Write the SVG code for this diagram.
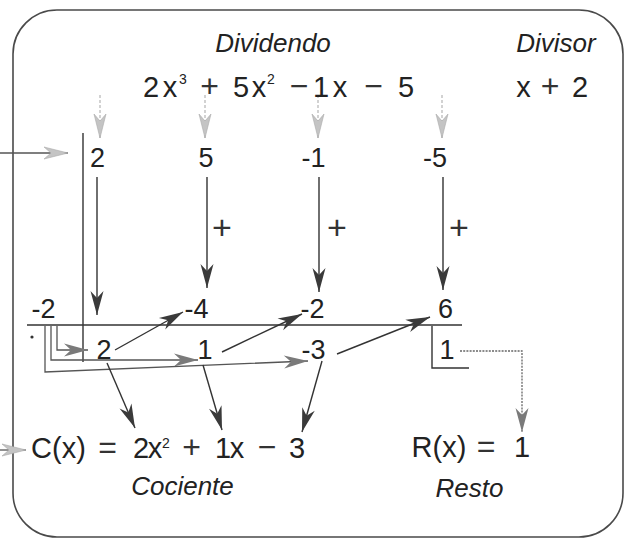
<svg xmlns="http://www.w3.org/2000/svg" width="625" height="539" viewBox="0 0 625 539">
<style>
  .frame{fill:#fff;stroke:#4a4a4a;stroke-width:1.6}
  .ln{fill:none;stroke:#333;stroke-width:1.4}
  .ln2{fill:none;stroke:#555;stroke-width:1.3}
  .feed{fill:none;stroke:#b5b5b5;stroke-width:1.2;stroke-dasharray:3 2}
  .rem{fill:none;stroke:#666;stroke-width:1.3;stroke-dasharray:2 1.2}
  .num{font-family:"Liberation Sans",Arial,sans-serif;font-size:27px;fill:#222;text-anchor:middle}
  .big{font-family:"Liberation Sans",Arial,sans-serif;font-size:29px;fill:#222;text-anchor:middle}
  .op{font-size:32px;fill:#333}
  .sup{font-family:"Liberation Sans",Arial,sans-serif;font-size:14px;fill:#222;text-anchor:middle}
  .lab{font-family:"Liberation Sans",Arial,sans-serif;font-size:26px;font-style:italic;fill:#222;text-anchor:middle}
  .plus{font-family:"Liberation Sans",Arial,sans-serif;font-size:34px;fill:#333;text-anchor:middle}
</style>
<defs>
  <marker id="hd" viewBox="-26 -8 28 16" refX="0" refY="0" markerWidth="28" markerHeight="16" markerUnits="userSpaceOnUse" orient="auto" overflow="visible">
    <path d="M0,0 L-24,-6.5 L-17,0 L-24,6.5 Z" fill="#3a3a3a"/>
  </marker>
  <marker id="hm" viewBox="-26 -8 28 16" refX="0" refY="0" markerWidth="28" markerHeight="16" markerUnits="userSpaceOnUse" orient="auto" overflow="visible">
    <path d="M0,0 L-24,-6.5 L-17,0 L-24,6.5 Z" fill="#7a7a7a"/>
  </marker>
  <marker id="hl" viewBox="-26 -8 28 16" refX="0" refY="0" markerWidth="28" markerHeight="16" markerUnits="userSpaceOnUse" orient="auto" overflow="visible">
    <path d="M0,0 L-24,-6 L-17,0 L-24,6 Z" fill="#c4c4c4" stroke="#aaa" stroke-width="0.6"/>
  </marker>
</defs>

<rect class="frame" x="13" y="10" width="610" height="527" rx="44" ry="44"/>

<g id="connectors">
  <path class="ln2" d="M0,153 H68" marker-end="url(#hl)"/>
  <path class="ln2" d="M0,450 H26" marker-end="url(#hl)"/>
  <path class="feed" d="M100,95 V138" marker-end="url(#hl)"/>
  <path class="feed" d="M205,95 V138" marker-end="url(#hl)"/>
  <path class="feed" d="M318,95 V138" marker-end="url(#hl)"/>
  <path class="feed" d="M442,95 V138" marker-end="url(#hl)"/>
  <path class="ln" d="M83,133 V362"/>
  <path class="ln" d="M27,325 H462"/>
  <path class="ln" d="M432,326 V368 H469"/>
  <path class="ln" d="M97,177 V315" marker-end="url(#hd)"/>
  <path class="ln" d="M207,177 V288" marker-end="url(#hd)"/>
  <path class="ln" d="M319,177 V292" marker-end="url(#hd)"/>
  <path class="ln" d="M443,177 V290" marker-end="url(#hd)"/>
  <path class="ln" d="M115,350 L183,312" marker-end="url(#hd)"/>
  <path class="ln" d="M222,352 L302,314" marker-end="url(#hd)"/>
  <path class="ln" d="M337,354 L430,317" marker-end="url(#hd)"/>
  <path class="ln2" d="M57,326 V350 H88" marker-end="url(#hm)"/>
  <path class="ln2" d="M51,326 V360 H198" marker-end="url(#hm)"/>
  <path class="ln2" d="M45,326 V372 L308,361" marker-end="url(#hm)"/>
  <path class="ln" d="M107,363 L135,428" marker-end="url(#hd)"/>
  <path class="ln" d="M203,365 L222,430" marker-end="url(#hd)"/>
  <path class="ln" d="M322,361 L302,432" marker-end="url(#hd)"/>
  <path class="rem" d="M460,351 H522 V432" marker-end="url(#hm)"/>
</g>

<g id="dividendo-label"><text class="lab" x="273" y="52">Dividendo</text></g>
<g id="divisor-label"><text class="lab" x="556" y="52">Divisor</text></g>

<g id="dividendo">
  <text class="big" y="97"><tspan x="151">2</tspan><tspan x="170">x</tspan><tspan class="op" x="209.5">+</tspan><tspan x="241">5</tspan><tspan x="259">x</tspan><tspan class="op" x="299">−</tspan><tspan x="321">1</tspan><tspan x="340">x</tspan><tspan class="op" x="373.5">−</tspan><tspan x="406">5</tspan></text>
  <text class="sup" y="84"><tspan x="183">3</tspan><tspan x="271">2</tspan></text>
</g>
<g id="divisor">
  <text class="big" y="97"><tspan x="523.5">x</tspan><tspan class="op" x="550">+</tspan><tspan x="580">2</tspan></text>
</g>

<g id="row1">
  <text class="num" y="167"><tspan x="97.5">2</tspan><tspan x="206">5</tspan><tspan x="313.5">-1</tspan><tspan x="435">-5</tspan></text>
  <text class="plus" y="239"><tspan x="222">+</tspan><tspan x="337">+</tspan><tspan x="459">+</tspan></text>
</g>

<g id="row2">
  <text class="num" y="318"><tspan x="43.5">-2</tspan><tspan x="196.5">-4</tspan><tspan x="312.5">-2</tspan><tspan x="445.5">6</tspan></text>
  <circle cx="32" cy="337" r="1.6" fill="#333"/>
</g>

<g id="row3">
  <text class="num" y="359"><tspan x="104">2</tspan><tspan x="205">1</tspan><tspan x="313.5">-3</tspan><tspan x="447">1</tspan></text>
</g>

<g id="cociente">
  <text class="big" y="458"><tspan x="58.5">C(x)</tspan><tspan class="op" x="107.5">=</tspan><tspan x="141">2</tspan><tspan x="155">x</tspan><tspan class="op" x="191.5">+</tspan><tspan x="223">1</tspan><tspan x="237">x</tspan><tspan class="op" x="267">−</tspan><tspan x="297">3</tspan></text>
  <text class="sup" y="448"><tspan x="166">2</tspan></text>
  <text class="lab" x="182.5" y="495">Cociente</text>
</g>

<g id="resto">
  <text class="big" y="457"><tspan x="439">R(x)</tspan><tspan class="op" x="486">=</tspan><tspan x="522">1</tspan></text>
  <text class="lab" x="469.5" y="497">Resto</text>
</g>
</svg>
